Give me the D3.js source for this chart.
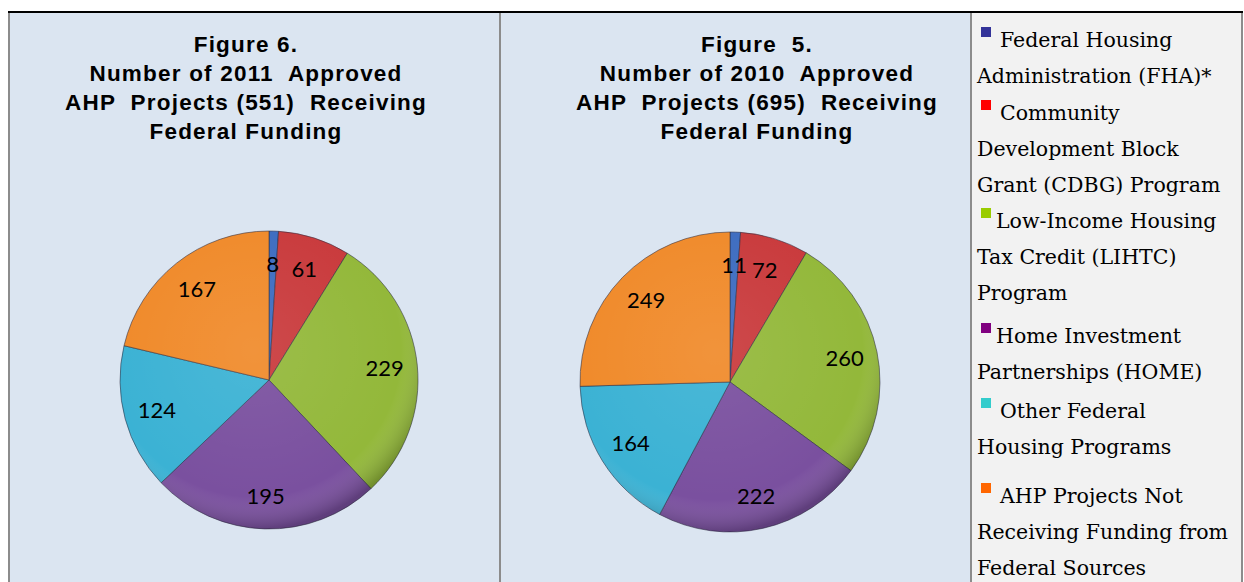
<!DOCTYPE html>
<html>
<head>
<meta charset="utf-8">
<script src="https://cdn.jsdelivr.net/npm/d3@7"></script>
<style>
	body { margin: 0; background: #fff; }
	svg { display: block; }
	.title text { white-space: pre; }
</style>
</head>
<body>
<div id="graph"></div>
<script>
// data
const categories = [
	"Federal Housing Administration (FHA)*",
	"Community Development Block Grant (CDBG) Program",
	"Low-Income Housing Tax Credit (LIHTC) Program",
	"Home Investment Partnerships (HOME)",
	"Other Federal Housing Programs",
	"AHP Projects Not Receiving Funding from Federal Sources",
];
const values2011 = [8, 61, 229, 195, 124, 167];
const values2010 = [11, 72, 260, 222, 164, 249];
const title2011 = ["Figure 6.", "Number of 2011  Approved", "AHP  Projects (551)  Receiving", "Federal Funding"];
const title2010 = ["Figure  5.", "Number of 2010  Approved", "AHP  Projects (695)  Receiving", "Federal Funding"];
// legend wording as it wraps in the picture
const legendLines = [
	["Federal Housing", "Administration (FHA)*"],
	["Community", "Development Block", "Grant (CDBG) Program"],
	["Low-Income Housing", "Tax Credit (LIHTC)", "Program"],
	["Home Investment", "Partnerships (HOME)"],
	["Other Federal", "Housing Programs"],
	["AHP Projects Not", "Receiving Funding from", "Federal Sources"],
];

const width = 1244;
const height = 582;

const pieColors = ["#3d6cc0", "#c93a3c", "#93b83a", "#7a509f", "#3bb2d4", "#f08a2a"];
const legendColors = ["#333399", "#ff0000", "#99cc00", "#800080", "#33cccc", "#ff6600"];
const color = d3.scaleOrdinal(categories, pieColors);
const legendColor = d3.scaleOrdinal(categories, legendColors);

const svg = d3
	.select("#graph")
	.append("svg")
	.attr("width", width)
	.attr("height", height)
	.attr("viewBox", [0, 0, width, height]);

const defs = svg.append("defs");
// soft bevel shading over the pies
const shade = defs.append("radialGradient").attr("id", "shade").attr("cx", "45%").attr("cy", "40%").attr("r", "60%");
shade.append("stop").attr("offset", "0%").attr("stop-color", "#fff").attr("stop-opacity", 0.08);
shade.append("stop").attr("offset", "82%").attr("stop-color", "#fff").attr("stop-opacity", 0);
shade.append("stop").attr("offset", "100%").attr("stop-color", "#000").attr("stop-opacity", 0.22);

// panels
svg.append("rect").attr("x", 9).attr("y", 12).attr("width", 491).attr("height", height - 12).attr("fill", "#dbe5f1");
svg.append("rect").attr("x", 500).attr("y", 12).attr("width", 471).attr("height", height - 12).attr("fill", "#dbe5f1");
svg.append("rect").attr("x", 971).attr("y", 12).attr("width", 271).attr("height", height - 12).attr("fill", "#f2f2f2");

const borders = svg.append("g").attr("stroke", "#8c8c8c").attr("stroke-width", 2);
[9, 500, 971, 1242].forEach((x) =>
	borders.append("line").attr("x1", x).attr("x2", x).attr("y1", 12).attr("y2", height)
);
svg.append("line").attr("x1", 8).attr("x2", 1243).attr("y1", 12).attr("y2", 12).attr("stroke", "#000").attr("stroke-width", 2);

function PieChart(values, { cx, cy, radius, title, titleX }) {
	const arcs = d3.pie().sort(null).value((d) => d)(values);
	const arc = d3.arc().innerRadius(0).outerRadius(radius);
	const arcLabel = d3.arc().innerRadius(radius * 0.78).outerRadius(radius * 0.78);

	svg
		.append("g")
		.attr("class", "title")
		.attr("font-family", "Liberation Sans, Arial, sans-serif")
		.attr("font-weight", "bold")
		.attr("font-size", 22.5)
		.attr("letter-spacing", 1.2)
		.attr("text-anchor", "middle")
		.attr("fill", "#000")
		.selectAll("text")
		.data(title)
		.join("text")
		.attr("x", titleX)
		.attr("y", (_, i) => 52 + i * 29)
		.text((d) => d);

	const g = svg.append("g").attr("transform", `translate(${cx},${cy})`);

	g.append("g")
		.attr("stroke", "rgba(40,40,60,0.55)")
		.attr("stroke-width", 1)
		.attr("stroke-linejoin", "round")
		.selectAll("path")
		.data(arcs)
		.join("path")
		.attr("fill", (d, i) => color(categories[i]))
		.attr("d", arc)
		.append("title")
		.text((d, i) => `${categories[i]}\n${d.data}`);

	g.append("circle").attr("r", radius).attr("fill", "url(#shade)").attr("pointer-events", "none");

	g.append("g")
		.attr("font-family", "Lato, Open Sans, sans-serif")
		.attr("font-size", 22)
		.attr("text-anchor", "middle")
		.attr("fill", "#000")
		.selectAll("text")
		.data(arcs)
		.join("text")
		.attr("transform", (d) => `translate(${arcLabel.centroid(d)})`)
		.attr("dy", "0.35em")
		.text((d) => d.data);
}

PieChart(values2011, { cx: 269, cy: 380, radius: 149, title: title2011, titleX: 246 });
PieChart(values2010, { cx: 730, cy: 382, radius: 150, title: title2010, titleX: 757 });

// legend
const legendTop = [47, 120, 228, 343, 418, 503];
const lineStep = 36;
const legend = svg.append("g").attr("font-family", "DejaVu Serif, serif").attr("font-size", 20.5).attr("fill", "#000");

categories.forEach((c, i) => {
	const y0 = legendTop[i];
	legend.append("rect").attr("x", 981).attr("y", y0 - 20).attr("width", 10).attr("height", 10).attr("fill", legendColor(c));
	legend
		.append("g")
		.selectAll("text")
		.data(legendLines[i])
		.join("text")
		.attr("x", (_, j) => (j === 0 ? (i === 2 || i === 3 ? 996 : 1000) : 977))
		.attr("y", (_, j) => y0 + j * lineStep)
		.text((d) => d);
});
</script>
</body>
</html>
